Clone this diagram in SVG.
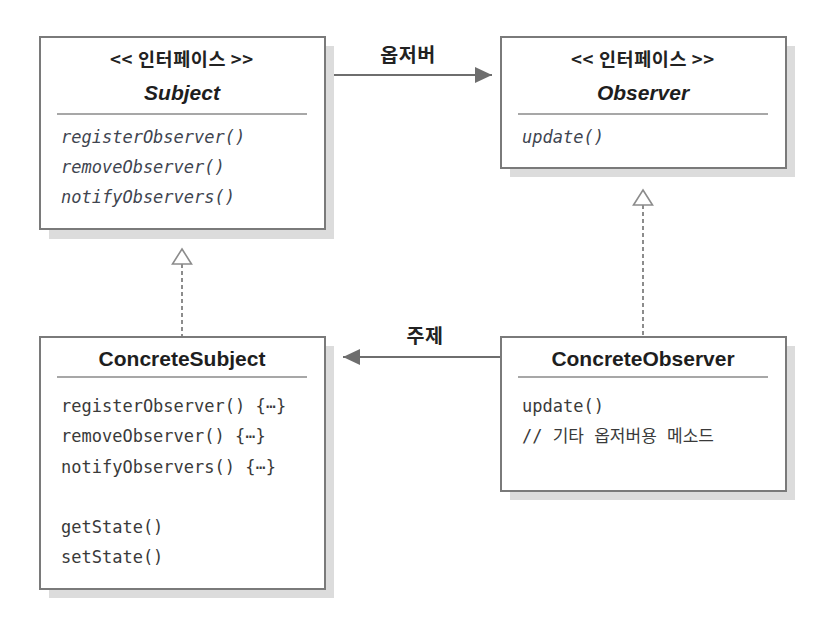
<svg xmlns="http://www.w3.org/2000/svg" width="831" height="637" viewBox="0 0 831 637">
<defs>
<style>
.box{fill:#fff;stroke:#7a7a7a;stroke-width:2}
.shadow{fill:#dcdcdc}
.sep{stroke:#8a8a8a;stroke-width:1.5}
.stereo{font-family:"Noto Sans CJK KR","Noto Sans",sans-serif;font-weight:bold;font-size:18.5px;fill:#222;text-anchor:middle;letter-spacing:0.6px}
.title{font-family:"Liberation Sans",Arial,sans-serif;font-weight:bold;font-size:21px;fill:#1e1e1e;text-anchor:middle}
.ititle{font-style:italic}
.m{font-family:"DejaVu Sans Mono","Noto Sans CJK KR",monospace;font-size:17px;fill:#3a3a3a}
.mi{font-style:italic;fill:#404550}
.lbl{font-family:"Noto Sans CJK KR","Noto Sans",sans-serif;font-weight:bold;font-size:19.5px;fill:#222;text-anchor:middle;letter-spacing:0.5px}
.assoc{stroke:#6e6e6e;stroke-width:2;fill:none}
.real{stroke:#8c8c8c;stroke-width:2;stroke-dasharray:4 3;fill:none}
.tri{fill:#fff;stroke:#8c8c8c;stroke-width:1.6}
</style>
<marker id="filled" viewBox="0 0 17 16" refX="17" refY="8" markerWidth="17" markerHeight="16" markerUnits="userSpaceOnUse" orient="auto">
<path d="M0,0 L17,8 L0,16 Z" fill="#6e6e6e"/>
</marker>
</defs>
<rect width="831" height="637" fill="#fff"/>

<g id="connectors">
<line class="assoc" x1="325" y1="75" x2="492" y2="75" marker-end="url(#filled)"/>
<text class="lbl" x="408" y="62">옵저버</text>
<line class="assoc" x1="501" y1="357" x2="343" y2="357" marker-end="url(#filled)"/>
<text class="lbl" x="425" y="343">주제</text>
<line class="real" x1="182" y1="264" x2="182" y2="337"/>
<path class="tri" d="M182,249 L191.5,264 L172.5,264 Z"/>
<line class="real" x1="643" y1="205" x2="643" y2="337"/>
<path class="tri" d="M643,190 L652.5,205 L633.5,205 Z"/>
</g>

<g id="Subject">
<rect class="shadow" x="49" y="46" width="285" height="193"/>
<rect class="box" x="40" y="37" width="285" height="192"/>
<text class="stereo" x="182" y="66">&lt;&lt; 인터페이스 &gt;&gt;</text>
<text class="title ititle" x="182" y="100">Subject</text>
<line class="sep" x1="57" y1="114" x2="307" y2="114"/>
<text class="m mi" x="61" y="143">registerObserver()</text>
<text class="m mi" x="61" y="173">removeObserver()</text>
<text class="m mi" x="61" y="203">notifyObservers()</text>
</g>

<g id="Observer">
<rect class="shadow" x="510" y="46" width="285" height="131"/>
<rect class="box" x="501" y="37" width="285" height="131"/>
<text class="stereo" x="643" y="66">&lt;&lt; 인터페이스 &gt;&gt;</text>
<text class="title ititle" x="643" y="100">Observer</text>
<line class="sep" x1="518" y1="114" x2="768" y2="114"/>
<text class="m mi" x="522" y="143">update()</text>
</g>

<g id="ConcreteSubject">
<rect class="shadow" x="49" y="346" width="285" height="252"/>
<rect class="box" x="40" y="337" width="285" height="252"/>
<text class="title" x="182" y="366">ConcreteSubject</text>
<line class="sep" x1="57" y1="377" x2="307" y2="377"/>
<text class="m" x="61" y="412">registerObserver() {⋯}</text>
<text class="m" x="61" y="442">removeObserver() {⋯}</text>
<text class="m" x="61" y="473">notifyObservers() {⋯}</text>
<text class="m" x="61" y="533">getState()</text>
<text class="m" x="61" y="563">setState()</text>
</g>

<g id="ConcreteObserver">
<rect class="shadow" x="510" y="346" width="285" height="154"/>
<rect class="box" x="501" y="337" width="285" height="154"/>
<text class="title" x="643" y="366">ConcreteObserver</text>
<line class="sep" x1="518" y1="377" x2="768" y2="377"/>
<text class="m" x="522" y="412">update()</text>
<text class="m" x="522" y="442">// 기타 옵저버용 메소드</text>
</g>
</svg>
